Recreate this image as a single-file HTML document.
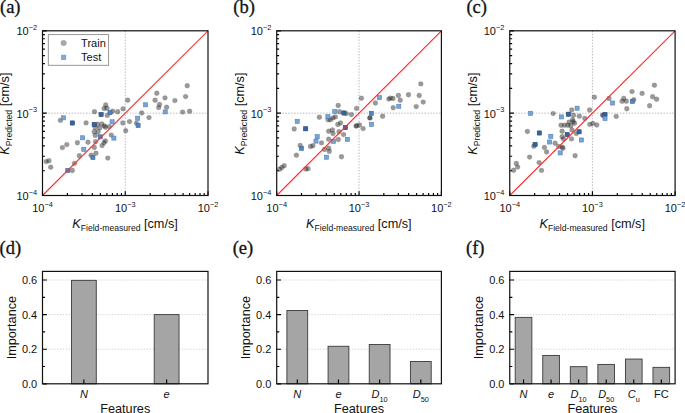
<!DOCTYPE html>
<html><head><meta charset="utf-8"><style>
html,body{margin:0;padding:0;background:#fff;width:685px;height:413px;overflow:hidden}
svg{display:block}
text{fill:#111}
</style></head><body>
<svg width="685" height="413" viewBox="0 0 685 413">
<text x="0" y="13.2" style="font-family:'Liberation Serif', serif;font-size:18.5px;stroke:#111;stroke-width:0.3px">(a)</text>
<line x1="125.25" y1="30.8" x2="125.25" y2="195.5" stroke="#a6a6a6" stroke-width="0.8" stroke-dasharray="1.4 1.5"/>
<line x1="42.5" y1="113.15" x2="208" y2="113.15" stroke="#a6a6a6" stroke-width="0.8" stroke-dasharray="1.4 1.5"/>
<clipPath id="clipa"><rect x="42.5" y="30.8" width="165.5" height="164.7"/></clipPath>
<g clip-path="url(#clipa)">
<circle cx="72.3" cy="123" r="2.45" fill="rgba(35,35,35,0.46)"/>
<circle cx="101.1" cy="114.6" r="2.45" fill="rgba(35,35,35,0.46)"/>
<circle cx="94.2" cy="124.6" r="2.45" fill="rgba(35,35,35,0.46)"/>
<circle cx="105.7" cy="104.9" r="2.45" fill="rgba(35,35,35,0.46)" stroke="rgba(35,35,35,0.2)" stroke-width="0.6"/>
<circle cx="104.1" cy="108.5" r="2.45" fill="rgba(35,35,35,0.46)" stroke="rgba(35,35,35,0.2)" stroke-width="0.6"/>
<circle cx="107" cy="108.2" r="2.45" fill="rgba(35,35,35,0.46)" stroke="rgba(35,35,35,0.2)" stroke-width="0.6"/>
<circle cx="94.5" cy="111.7" r="2.45" fill="rgba(35,35,35,0.46)" stroke="rgba(35,35,35,0.2)" stroke-width="0.6"/>
<circle cx="107.3" cy="115.4" r="2.45" fill="rgba(35,35,35,0.46)" stroke="rgba(35,35,35,0.2)" stroke-width="0.6"/>
<circle cx="112.6" cy="111.2" r="2.45" fill="rgba(35,35,35,0.46)" stroke="rgba(35,35,35,0.2)" stroke-width="0.6"/>
<circle cx="117.7" cy="111.7" r="2.45" fill="rgba(35,35,35,0.46)" stroke="rgba(35,35,35,0.2)" stroke-width="0.6"/>
<circle cx="123" cy="108.9" r="2.45" fill="rgba(35,35,35,0.46)" stroke="rgba(35,35,35,0.2)" stroke-width="0.6"/>
<circle cx="60.4" cy="120.4" r="2.45" fill="rgba(35,35,35,0.46)" stroke="rgba(35,35,35,0.2)" stroke-width="0.6"/>
<circle cx="86.1" cy="122.9" r="2.45" fill="rgba(35,35,35,0.46)" stroke="rgba(35,35,35,0.2)" stroke-width="0.6"/>
<circle cx="97.5" cy="124.3" r="2.45" fill="rgba(35,35,35,0.46)" stroke="rgba(35,35,35,0.2)" stroke-width="0.6"/>
<circle cx="101.8" cy="123.9" r="2.45" fill="rgba(35,35,35,0.46)" stroke="rgba(35,35,35,0.2)" stroke-width="0.6"/>
<circle cx="104.4" cy="125.9" r="2.45" fill="rgba(35,35,35,0.46)" stroke="rgba(35,35,35,0.2)" stroke-width="0.6"/>
<circle cx="105.4" cy="127.2" r="2.45" fill="rgba(35,35,35,0.46)" stroke="rgba(35,35,35,0.2)" stroke-width="0.6"/>
<circle cx="95.2" cy="127.6" r="2.45" fill="rgba(35,35,35,0.46)" stroke="rgba(35,35,35,0.2)" stroke-width="0.6"/>
<circle cx="99.8" cy="127.9" r="2.45" fill="rgba(35,35,35,0.46)" stroke="rgba(35,35,35,0.2)" stroke-width="0.6"/>
<circle cx="109.3" cy="126.6" r="2.45" fill="rgba(35,35,35,0.46)" stroke="rgba(35,35,35,0.2)" stroke-width="0.6"/>
<circle cx="94.2" cy="131.8" r="2.45" fill="rgba(35,35,35,0.46)" stroke="rgba(35,35,35,0.2)" stroke-width="0.6"/>
<circle cx="98.1" cy="131.8" r="2.45" fill="rgba(35,35,35,0.46)" stroke="rgba(35,35,35,0.2)" stroke-width="0.6"/>
<circle cx="95.2" cy="135.4" r="2.45" fill="rgba(35,35,35,0.46)" stroke="rgba(35,35,35,0.2)" stroke-width="0.6"/>
<circle cx="111.3" cy="135.1" r="2.45" fill="rgba(35,35,35,0.46)" stroke="rgba(35,35,35,0.2)" stroke-width="0.6"/>
<circle cx="122.8" cy="123" r="2.45" fill="rgba(35,35,35,0.46)" stroke="rgba(35,35,35,0.2)" stroke-width="0.6"/>
<circle cx="125.7" cy="130.8" r="2.45" fill="rgba(35,35,35,0.46)" stroke="rgba(35,35,35,0.2)" stroke-width="0.6"/>
<circle cx="66.8" cy="144.6" r="2.45" fill="rgba(35,35,35,0.46)" stroke="rgba(35,35,35,0.2)" stroke-width="0.6"/>
<circle cx="62.4" cy="147.6" r="2.45" fill="rgba(35,35,35,0.46)" stroke="rgba(35,35,35,0.2)" stroke-width="0.6"/>
<circle cx="77.4" cy="142.7" r="2.45" fill="rgba(35,35,35,0.46)" stroke="rgba(35,35,35,0.2)" stroke-width="0.6"/>
<circle cx="88" cy="142.3" r="2.45" fill="rgba(35,35,35,0.46)" stroke="rgba(35,35,35,0.2)" stroke-width="0.6"/>
<circle cx="95.5" cy="141.7" r="2.45" fill="rgba(35,35,35,0.46)" stroke="rgba(35,35,35,0.2)" stroke-width="0.6"/>
<circle cx="105.4" cy="141" r="2.45" fill="rgba(35,35,35,0.46)" stroke="rgba(35,35,35,0.2)" stroke-width="0.6"/>
<circle cx="104" cy="142.7" r="2.45" fill="rgba(35,35,35,0.46)" stroke="rgba(35,35,35,0.2)" stroke-width="0.6"/>
<circle cx="102.1" cy="145.6" r="2.45" fill="rgba(35,35,35,0.46)" stroke="rgba(35,35,35,0.2)" stroke-width="0.6"/>
<circle cx="94.3" cy="147.5" r="2.45" fill="rgba(35,35,35,0.46)" stroke="rgba(35,35,35,0.2)" stroke-width="0.6"/>
<circle cx="187.2" cy="85.7" r="2.45" fill="rgba(35,35,35,0.46)" stroke="rgba(35,35,35,0.2)" stroke-width="0.6"/>
<circle cx="156.8" cy="93.3" r="2.45" fill="rgba(35,35,35,0.46)" stroke="rgba(35,35,35,0.2)" stroke-width="0.6"/>
<circle cx="165" cy="97.9" r="2.45" fill="rgba(35,35,35,0.46)" stroke="rgba(35,35,35,0.2)" stroke-width="0.6"/>
<circle cx="185.6" cy="96.6" r="2.45" fill="rgba(35,35,35,0.46)" stroke="rgba(35,35,35,0.2)" stroke-width="0.6"/>
<circle cx="155.1" cy="100.2" r="2.45" fill="rgba(35,35,35,0.46)" stroke="rgba(35,35,35,0.2)" stroke-width="0.6"/>
<circle cx="174.9" cy="100.6" r="2.45" fill="rgba(35,35,35,0.46)" stroke="rgba(35,35,35,0.2)" stroke-width="0.6"/>
<circle cx="127.7" cy="100.2" r="2.45" fill="rgba(35,35,35,0.46)" stroke="rgba(35,35,35,0.2)" stroke-width="0.6"/>
<circle cx="159.5" cy="104.5" r="2.45" fill="rgba(35,35,35,0.46)" stroke="rgba(35,35,35,0.2)" stroke-width="0.6"/>
<circle cx="158.7" cy="107.6" r="2.45" fill="rgba(35,35,35,0.46)" stroke="rgba(35,35,35,0.2)" stroke-width="0.6"/>
<circle cx="166.6" cy="107.3" r="2.45" fill="rgba(35,35,35,0.46)" stroke="rgba(35,35,35,0.2)" stroke-width="0.6"/>
<circle cx="141.7" cy="113" r="2.45" fill="rgba(35,35,35,0.46)" stroke="rgba(35,35,35,0.2)" stroke-width="0.6"/>
<circle cx="182.6" cy="112.1" r="2.45" fill="rgba(35,35,35,0.46)" stroke="rgba(35,35,35,0.2)" stroke-width="0.6"/>
<circle cx="189.6" cy="111.3" r="2.45" fill="rgba(35,35,35,0.46)" stroke="rgba(35,35,35,0.2)" stroke-width="0.6"/>
<circle cx="149" cy="117.6" r="2.45" fill="rgba(35,35,35,0.46)" stroke="rgba(35,35,35,0.2)" stroke-width="0.6"/>
<circle cx="129.5" cy="121.6" r="2.45" fill="rgba(35,35,35,0.46)" stroke="rgba(35,35,35,0.2)" stroke-width="0.6"/>
<circle cx="136.5" cy="123.3" r="2.45" fill="rgba(35,35,35,0.46)" stroke="rgba(35,35,35,0.2)" stroke-width="0.6"/>
<circle cx="95.9" cy="153.2" r="2.45" fill="rgba(35,35,35,0.46)" stroke="rgba(35,35,35,0.2)" stroke-width="0.6"/>
<circle cx="91.1" cy="155.3" r="2.45" fill="rgba(35,35,35,0.46)" stroke="rgba(35,35,35,0.2)" stroke-width="0.6"/>
<circle cx="79.3" cy="155.7" r="2.45" fill="rgba(35,35,35,0.46)" stroke="rgba(35,35,35,0.2)" stroke-width="0.6"/>
<circle cx="107.8" cy="158.1" r="2.45" fill="rgba(35,35,35,0.46)" stroke="rgba(35,35,35,0.2)" stroke-width="0.6"/>
<circle cx="46.2" cy="161.6" r="2.45" fill="rgba(35,35,35,0.46)" stroke="rgba(35,35,35,0.2)" stroke-width="0.6"/>
<circle cx="49" cy="160.8" r="2.45" fill="rgba(35,35,35,0.46)" stroke="rgba(35,35,35,0.2)" stroke-width="0.6"/>
<circle cx="50.7" cy="167.2" r="2.45" fill="rgba(35,35,35,0.46)" stroke="rgba(35,35,35,0.2)" stroke-width="0.6"/>
<circle cx="74.5" cy="163.4" r="2.45" fill="rgba(35,35,35,0.46)" stroke="rgba(35,35,35,0.2)" stroke-width="0.6"/>
<circle cx="72.3" cy="170.5" r="2.45" fill="rgba(35,35,35,0.46)" stroke="rgba(35,35,35,0.2)" stroke-width="0.6"/>
<rect x="61.45" y="115.75" width="4.1" height="4.1" fill="rgb(112,160,214)" stroke="rgb(80,128,188)" stroke-width="0.6" fill-opacity="0.95"/>
<rect x="70.25" y="120.95" width="4.1" height="4.1" fill="rgb(52,98,156)" stroke="rgb(40,80,135)" stroke-width="0.6" fill-opacity="0.95"/>
<rect x="99.05" y="112.55" width="4.1" height="4.1" fill="rgb(52,98,156)" stroke="rgb(40,80,135)" stroke-width="0.6" fill-opacity="0.95"/>
<rect x="107.95" y="110.55" width="4.1" height="4.1" fill="rgb(76,126,186)" stroke="rgb(58,104,160)" stroke-width="0.6" fill-opacity="0.95"/>
<rect x="92.15" y="122.55" width="4.1" height="4.1" fill="rgb(52,98,156)" stroke="rgb(40,80,135)" stroke-width="0.6" fill-opacity="0.95"/>
<rect x="110.05" y="119.75" width="4.1" height="4.1" fill="rgb(112,160,214)" stroke="rgb(80,128,188)" stroke-width="0.6" fill-opacity="0.95"/>
<rect x="80.55" y="135.75" width="4.1" height="4.1" fill="rgb(112,160,214)" stroke="rgb(80,128,188)" stroke-width="0.6" fill-opacity="0.95"/>
<rect x="98.15" y="134.75" width="4.1" height="4.1" fill="rgb(76,126,186)" stroke="rgb(58,104,160)" stroke-width="0.6" fill-opacity="0.95"/>
<rect x="111.85" y="136.05" width="4.1" height="4.1" fill="rgb(112,160,214)" stroke="rgb(80,128,188)" stroke-width="0.6" fill-opacity="0.95"/>
<rect x="81.75" y="147.25" width="4.1" height="4.1" fill="rgb(112,160,214)" stroke="rgb(80,128,188)" stroke-width="0.6" fill-opacity="0.95"/>
<rect x="143.55" y="102.75" width="4.1" height="4.1" fill="rgb(112,160,214)" stroke="rgb(80,128,188)" stroke-width="0.6" fill-opacity="0.95"/>
<rect x="163.15" y="109.85" width="4.1" height="4.1" fill="rgb(112,160,214)" stroke="rgb(80,128,188)" stroke-width="0.6" fill-opacity="0.95"/>
<rect x="135.65" y="116.15" width="4.1" height="4.1" fill="rgb(112,160,214)" stroke="rgb(80,128,188)" stroke-width="0.6" fill-opacity="0.95"/>
<rect x="136.05" y="123.45" width="4.1" height="4.1" fill="rgb(76,126,186)" stroke="rgb(58,104,160)" stroke-width="0.6" fill-opacity="0.95"/>
<rect x="90.85" y="155.45" width="4.1" height="4.1" fill="rgb(76,126,186)" stroke="rgb(58,104,160)" stroke-width="0.6" fill-opacity="0.95"/>
<rect x="65.75" y="168.45" width="4.1" height="4.1" fill="rgb(76,126,186)" stroke="rgb(58,104,160)" stroke-width="0.6" fill-opacity="0.95"/>
<line x1="42.5" y1="195.5" x2="208" y2="30.8" stroke="#ff2a2a" stroke-width="1.1"/>
</g>
<path d="M42.5 195.5v-4.2 M42.5 195.5h4.2 M67.41 195.5v-2.4 M42.5 170.71h2.4 M81.98 195.5v-2.4 M42.5 156.21h2.4 M92.32 195.5v-2.4 M42.5 145.92h2.4 M100.34 195.5v-2.4 M42.5 137.94h2.4 M106.89 195.5v-2.4 M42.5 131.42h2.4 M112.43 195.5v-2.4 M42.5 125.91h2.4 M117.23 195.5v-2.4 M42.5 121.13h2.4 M121.46 195.5v-2.4 M42.5 116.92h2.4 M125.25 195.5v-4.2 M42.5 113.15h4.2 M150.16 195.5v-2.4 M42.5 88.36h2.4 M164.73 195.5v-2.4 M42.5 73.86h2.4 M175.07 195.5v-2.4 M42.5 63.57h2.4 M183.09 195.5v-2.4 M42.5 55.59h2.4 M189.64 195.5v-2.4 M42.5 49.07h2.4 M195.18 195.5v-2.4 M42.5 43.56h2.4 M199.98 195.5v-2.4 M42.5 38.78h2.4 M204.21 195.5v-2.4 M42.5 34.57h2.4 M208 195.5v-4.2 M42.5 30.8h4.2" stroke="#000" stroke-width="1.15" fill="none"/>
<rect x="42.5" y="30.8" width="165.5" height="164.7" fill="none" stroke="#111" stroke-width="1.2"/>
<text x="42.5" y="212.0" text-anchor="middle" style="font-family:'Liberation Sans', sans-serif;font-size:11px">10<tspan dy="-5.4" style="font-size:7.4px">−4</tspan></text>
<text x="125.25" y="212.0" text-anchor="middle" style="font-family:'Liberation Sans', sans-serif;font-size:11px">10<tspan dy="-5.4" style="font-size:7.4px">−3</tspan></text>
<text x="208" y="212.0" text-anchor="middle" style="font-family:'Liberation Sans', sans-serif;font-size:11px">10<tspan dy="-5.4" style="font-size:7.4px">−2</tspan></text>
<text x="37.2" y="200" text-anchor="end" style="font-family:'Liberation Sans', sans-serif;font-size:11px">10<tspan dy="-5.4" style="font-size:7.4px">−4</tspan></text>
<text x="37.2" y="117.65" text-anchor="end" style="font-family:'Liberation Sans', sans-serif;font-size:11px">10<tspan dy="-5.4" style="font-size:7.4px">−3</tspan></text>
<text x="37.2" y="35.3" text-anchor="end" style="font-family:'Liberation Sans', sans-serif;font-size:11px">10<tspan dy="-5.4" style="font-size:7.4px">−2</tspan></text>
<text x="125.05" y="228.3" text-anchor="middle" style="font-family:'Liberation Sans', sans-serif;font-size:12.7px"><tspan style="font-style:italic">K</tspan><tspan dy="3" style="font-size:8.6px">Field-measured</tspan><tspan dy="-3"> [cm/s]</tspan></text>
<text transform="translate(9.3,113.6) rotate(-90)" x="0" y="0" text-anchor="middle" style="font-family:'Liberation Sans', sans-serif;font-size:12.7px"><tspan style="font-style:italic">K</tspan><tspan dy="3" style="font-size:8.6px">Predicted</tspan><tspan dy="-3"> [cm/s]</tspan></text>
<rect x="48.3" y="34.6" width="60.3" height="30.7" fill="#fff" stroke="#8c8c8c" stroke-width="0.9"/>
<circle cx="63.6" cy="43" r="2.7" fill="#a8a8a8" stroke="#9a9a9a" stroke-width="0.5"/>
<rect x="61.3" y="55.1" width="4.6" height="4.6" fill="#7ea9da" stroke="#6693c8" stroke-width="0.5"/>
<text x="81.1" y="46.6" style="font-family:'Liberation Sans', sans-serif;font-size:11px">Train</text>
<text x="81.1" y="61.2" style="font-family:'Liberation Sans', sans-serif;font-size:11px">Test</text>
<text x="233.3" y="13.2" style="font-family:'Liberation Serif', serif;font-size:18.5px;stroke:#111;stroke-width:0.3px">(b)</text>
<line x1="359.05" y1="30.8" x2="359.05" y2="195.5" stroke="#a6a6a6" stroke-width="0.8" stroke-dasharray="1.4 1.5"/>
<line x1="276.7" y1="113.15" x2="441.4" y2="113.15" stroke="#a6a6a6" stroke-width="0.8" stroke-dasharray="1.4 1.5"/>
<clipPath id="clipb"><rect x="276.7" y="30.8" width="164.7" height="164.7"/></clipPath>
<g clip-path="url(#clipb)">
<circle cx="343.9" cy="113" r="2.45" fill="rgba(35,35,35,0.46)"/>
<circle cx="305.7" cy="128.8" r="2.45" fill="rgba(35,35,35,0.46)"/>
<circle cx="345.3" cy="127.6" r="2.45" fill="rgba(35,35,35,0.46)"/>
<circle cx="338.2" cy="105.5" r="2.45" fill="rgba(35,35,35,0.46)" stroke="rgba(35,35,35,0.2)" stroke-width="0.6"/>
<circle cx="356.6" cy="108.4" r="2.45" fill="rgba(35,35,35,0.46)" stroke="rgba(35,35,35,0.2)" stroke-width="0.6"/>
<circle cx="339.6" cy="111.8" r="2.45" fill="rgba(35,35,35,0.46)" stroke="rgba(35,35,35,0.2)" stroke-width="0.6"/>
<circle cx="346.3" cy="113.6" r="2.45" fill="rgba(35,35,35,0.46)" stroke="rgba(35,35,35,0.2)" stroke-width="0.6"/>
<circle cx="351.4" cy="114.6" r="2.45" fill="rgba(35,35,35,0.46)" stroke="rgba(35,35,35,0.2)" stroke-width="0.6"/>
<circle cx="319.4" cy="117.3" r="2.45" fill="rgba(35,35,35,0.46)" stroke="rgba(35,35,35,0.2)" stroke-width="0.6"/>
<circle cx="335.4" cy="116.9" r="2.45" fill="rgba(35,35,35,0.46)" stroke="rgba(35,35,35,0.2)" stroke-width="0.6"/>
<circle cx="333" cy="117.9" r="2.45" fill="rgba(35,35,35,0.46)" stroke="rgba(35,35,35,0.2)" stroke-width="0.6"/>
<circle cx="328.1" cy="119.7" r="2.45" fill="rgba(35,35,35,0.46)" stroke="rgba(35,35,35,0.2)" stroke-width="0.6"/>
<circle cx="330.5" cy="119.7" r="2.45" fill="rgba(35,35,35,0.46)" stroke="rgba(35,35,35,0.2)" stroke-width="0.6"/>
<circle cx="337.8" cy="124.5" r="2.45" fill="rgba(35,35,35,0.46)" stroke="rgba(35,35,35,0.2)" stroke-width="0.6"/>
<circle cx="340.6" cy="123" r="2.45" fill="rgba(35,35,35,0.46)" stroke="rgba(35,35,35,0.2)" stroke-width="0.6"/>
<circle cx="356" cy="126.1" r="2.45" fill="rgba(35,35,35,0.46)" stroke="rgba(35,35,35,0.2)" stroke-width="0.6"/>
<circle cx="294.2" cy="129" r="2.45" fill="rgba(35,35,35,0.46)" stroke="rgba(35,35,35,0.2)" stroke-width="0.6"/>
<circle cx="328.7" cy="131.2" r="2.45" fill="rgba(35,35,35,0.46)" stroke="rgba(35,35,35,0.2)" stroke-width="0.6"/>
<circle cx="332.4" cy="130" r="2.45" fill="rgba(35,35,35,0.46)" stroke="rgba(35,35,35,0.2)" stroke-width="0.6"/>
<circle cx="333" cy="133.6" r="2.45" fill="rgba(35,35,35,0.46)" stroke="rgba(35,35,35,0.2)" stroke-width="0.6"/>
<circle cx="339" cy="131.8" r="2.45" fill="rgba(35,35,35,0.46)" stroke="rgba(35,35,35,0.2)" stroke-width="0.6"/>
<circle cx="343.6" cy="134.6" r="2.45" fill="rgba(35,35,35,0.46)" stroke="rgba(35,35,35,0.2)" stroke-width="0.6"/>
<circle cx="328.7" cy="139.2" r="2.45" fill="rgba(35,35,35,0.46)" stroke="rgba(35,35,35,0.2)" stroke-width="0.6"/>
<circle cx="338.3" cy="139.5" r="2.45" fill="rgba(35,35,35,0.46)" stroke="rgba(35,35,35,0.2)" stroke-width="0.6"/>
<circle cx="321.5" cy="142.9" r="2.45" fill="rgba(35,35,35,0.46)" stroke="rgba(35,35,35,0.2)" stroke-width="0.6"/>
<circle cx="300.2" cy="145.5" r="2.45" fill="rgba(35,35,35,0.46)" stroke="rgba(35,35,35,0.2)" stroke-width="0.6"/>
<circle cx="310.5" cy="146.5" r="2.45" fill="rgba(35,35,35,0.46)" stroke="rgba(35,35,35,0.2)" stroke-width="0.6"/>
<circle cx="313" cy="145.7" r="2.45" fill="rgba(35,35,35,0.46)" stroke="rgba(35,35,35,0.2)" stroke-width="0.6"/>
<circle cx="324.5" cy="149.5" r="2.45" fill="rgba(35,35,35,0.46)" stroke="rgba(35,35,35,0.2)" stroke-width="0.6"/>
<circle cx="328.7" cy="148.3" r="2.45" fill="rgba(35,35,35,0.46)" stroke="rgba(35,35,35,0.2)" stroke-width="0.6"/>
<circle cx="329.3" cy="151.4" r="2.45" fill="rgba(35,35,35,0.46)" stroke="rgba(35,35,35,0.2)" stroke-width="0.6"/>
<circle cx="296.4" cy="155.2" r="2.45" fill="rgba(35,35,35,0.46)" stroke="rgba(35,35,35,0.2)" stroke-width="0.6"/>
<circle cx="341.5" cy="156.8" r="2.45" fill="rgba(35,35,35,0.46)" stroke="rgba(35,35,35,0.2)" stroke-width="0.6"/>
<circle cx="284.2" cy="165.7" r="2.45" fill="rgba(35,35,35,0.46)" stroke="rgba(35,35,35,0.2)" stroke-width="0.6"/>
<circle cx="281.8" cy="167.5" r="2.45" fill="rgba(35,35,35,0.46)" stroke="rgba(35,35,35,0.2)" stroke-width="0.6"/>
<circle cx="279.6" cy="169.3" r="2.45" fill="rgba(35,35,35,0.46)" stroke="rgba(35,35,35,0.2)" stroke-width="0.6"/>
<circle cx="305.7" cy="169" r="2.45" fill="rgba(35,35,35,0.46)" stroke="rgba(35,35,35,0.2)" stroke-width="0.6"/>
<circle cx="308.1" cy="168.7" r="2.45" fill="rgba(35,35,35,0.46)" stroke="rgba(35,35,35,0.2)" stroke-width="0.6"/>
<circle cx="420.8" cy="83.9" r="2.45" fill="rgba(35,35,35,0.46)" stroke="rgba(35,35,35,0.2)" stroke-width="0.6"/>
<circle cx="361.4" cy="98.2" r="2.45" fill="rgba(35,35,35,0.46)" stroke="rgba(35,35,35,0.2)" stroke-width="0.6"/>
<circle cx="398.4" cy="95.5" r="2.45" fill="rgba(35,35,35,0.46)" stroke="rgba(35,35,35,0.2)" stroke-width="0.6"/>
<circle cx="408.5" cy="94.8" r="2.45" fill="rgba(35,35,35,0.46)" stroke="rgba(35,35,35,0.2)" stroke-width="0.6"/>
<circle cx="419.2" cy="95.5" r="2.45" fill="rgba(35,35,35,0.46)" stroke="rgba(35,35,35,0.2)" stroke-width="0.6"/>
<circle cx="388.7" cy="99.1" r="2.45" fill="rgba(35,35,35,0.46)" stroke="rgba(35,35,35,0.2)" stroke-width="0.6"/>
<circle cx="390.5" cy="98.1" r="2.45" fill="rgba(35,35,35,0.46)" stroke="rgba(35,35,35,0.2)" stroke-width="0.6"/>
<circle cx="393" cy="98.5" r="2.45" fill="rgba(35,35,35,0.46)" stroke="rgba(35,35,35,0.2)" stroke-width="0.6"/>
<circle cx="400.2" cy="100.3" r="2.45" fill="rgba(35,35,35,0.46)" stroke="rgba(35,35,35,0.2)" stroke-width="0.6"/>
<circle cx="423.2" cy="102.1" r="2.45" fill="rgba(35,35,35,0.46)" stroke="rgba(35,35,35,0.2)" stroke-width="0.6"/>
<circle cx="375.4" cy="103" r="2.45" fill="rgba(35,35,35,0.46)" stroke="rgba(35,35,35,0.2)" stroke-width="0.6"/>
<circle cx="393.2" cy="107.8" r="2.45" fill="rgba(35,35,35,0.46)" stroke="rgba(35,35,35,0.2)" stroke-width="0.6"/>
<circle cx="416.2" cy="106.6" r="2.45" fill="rgba(35,35,35,0.46)" stroke="rgba(35,35,35,0.2)" stroke-width="0.6"/>
<circle cx="382.6" cy="116.3" r="2.45" fill="rgba(35,35,35,0.46)" stroke="rgba(35,35,35,0.2)" stroke-width="0.6"/>
<circle cx="369.9" cy="117.9" r="2.45" fill="rgba(35,35,35,0.46)" stroke="rgba(35,35,35,0.2)" stroke-width="0.6"/>
<circle cx="369.9" cy="117.9" r="2.45" fill="rgba(35,35,35,0.46)" stroke="rgba(35,35,35,0.2)" stroke-width="0.6"/>
<circle cx="356.7" cy="125.8" r="2.45" fill="rgba(35,35,35,0.46)" stroke="rgba(35,35,35,0.2)" stroke-width="0.6"/>
<circle cx="359.5" cy="125" r="2.45" fill="rgba(35,35,35,0.46)" stroke="rgba(35,35,35,0.2)" stroke-width="0.6"/>
<circle cx="363.1" cy="128.6" r="2.45" fill="rgba(35,35,35,0.46)" stroke="rgba(35,35,35,0.2)" stroke-width="0.6"/>
<rect x="332.75" y="109.45" width="4.1" height="4.1" fill="rgb(112,160,214)" stroke="rgb(80,128,188)" stroke-width="0.6" fill-opacity="0.95"/>
<rect x="341.85" y="110.95" width="4.1" height="4.1" fill="rgb(52,98,156)" stroke="rgb(40,80,135)" stroke-width="0.6" fill-opacity="0.95"/>
<rect x="325.85" y="114.65" width="4.1" height="4.1" fill="rgb(112,160,214)" stroke="rgb(80,128,188)" stroke-width="0.6" fill-opacity="0.95"/>
<rect x="295.15" y="119.25" width="4.1" height="4.1" fill="rgb(112,160,214)" stroke="rgb(80,128,188)" stroke-width="0.6" fill-opacity="0.95"/>
<rect x="303.65" y="126.75" width="4.1" height="4.1" fill="rgb(52,98,156)" stroke="rgb(40,80,135)" stroke-width="0.6" fill-opacity="0.95"/>
<rect x="343.25" y="125.55" width="4.1" height="4.1" fill="rgb(52,98,156)" stroke="rgb(40,80,135)" stroke-width="0.6" fill-opacity="0.95"/>
<rect x="315.15" y="134.65" width="4.1" height="4.1" fill="rgb(112,160,214)" stroke="rgb(80,128,188)" stroke-width="0.6" fill-opacity="0.95"/>
<rect x="345.35" y="137.35" width="4.1" height="4.1" fill="rgb(112,160,214)" stroke="rgb(80,128,188)" stroke-width="0.6" fill-opacity="0.95"/>
<rect x="313.95" y="139.05" width="4.1" height="4.1" fill="rgb(112,160,214)" stroke="rgb(80,128,188)" stroke-width="0.6" fill-opacity="0.95"/>
<rect x="331.55" y="139.25" width="4.1" height="4.1" fill="rgb(112,160,214)" stroke="rgb(80,128,188)" stroke-width="0.6" fill-opacity="0.95"/>
<rect x="299.45" y="146.25" width="4.1" height="4.1" fill="rgb(76,126,186)" stroke="rgb(58,104,160)" stroke-width="0.6" fill-opacity="0.95"/>
<rect x="324.45" y="155.15" width="4.1" height="4.1" fill="rgb(112,160,214)" stroke="rgb(80,128,188)" stroke-width="0.6" fill-opacity="0.95"/>
<rect x="377.35" y="95.55" width="4.1" height="4.1" fill="rgb(112,160,214)" stroke="rgb(80,128,188)" stroke-width="0.6" fill-opacity="0.95"/>
<rect x="396.75" y="104.25" width="4.1" height="4.1" fill="rgb(112,160,214)" stroke="rgb(80,128,188)" stroke-width="0.6" fill-opacity="0.95"/>
<rect x="369.25" y="111.25" width="4.1" height="4.1" fill="rgb(76,126,186)" stroke="rgb(58,104,160)" stroke-width="0.6" fill-opacity="0.95"/>
<rect x="369.55" y="122.35" width="4.1" height="4.1" fill="rgb(112,160,214)" stroke="rgb(80,128,188)" stroke-width="0.6" fill-opacity="0.95"/>
<line x1="276.7" y1="195.5" x2="441.4" y2="30.8" stroke="#ff2a2a" stroke-width="1.1"/>
</g>
<path d="M276.7 195.5v-4.2 M276.7 195.5h4.2 M301.49 195.5v-2.4 M276.7 170.71h2.4 M315.99 195.5v-2.4 M276.7 156.21h2.4 M326.28 195.5v-2.4 M276.7 145.92h2.4 M334.26 195.5v-2.4 M276.7 137.94h2.4 M340.78 195.5v-2.4 M276.7 131.42h2.4 M346.29 195.5v-2.4 M276.7 125.91h2.4 M351.07 195.5v-2.4 M276.7 121.13h2.4 M355.28 195.5v-2.4 M276.7 116.92h2.4 M359.05 195.5v-4.2 M276.7 113.15h4.2 M383.84 195.5v-2.4 M276.7 88.36h2.4 M398.34 195.5v-2.4 M276.7 73.86h2.4 M408.63 195.5v-2.4 M276.7 63.57h2.4 M416.61 195.5v-2.4 M276.7 55.59h2.4 M423.13 195.5v-2.4 M276.7 49.07h2.4 M428.64 195.5v-2.4 M276.7 43.56h2.4 M433.42 195.5v-2.4 M276.7 38.78h2.4 M437.63 195.5v-2.4 M276.7 34.57h2.4 M441.4 195.5v-4.2 M276.7 30.8h4.2" stroke="#000" stroke-width="1.15" fill="none"/>
<rect x="276.7" y="30.8" width="164.7" height="164.7" fill="none" stroke="#111" stroke-width="1.2"/>
<text x="276.7" y="212.0" text-anchor="middle" style="font-family:'Liberation Sans', sans-serif;font-size:11px">10<tspan dy="-5.4" style="font-size:7.4px">−4</tspan></text>
<text x="359.05" y="212.0" text-anchor="middle" style="font-family:'Liberation Sans', sans-serif;font-size:11px">10<tspan dy="-5.4" style="font-size:7.4px">−3</tspan></text>
<text x="441.4" y="212.0" text-anchor="middle" style="font-family:'Liberation Sans', sans-serif;font-size:11px">10<tspan dy="-5.4" style="font-size:7.4px">−2</tspan></text>
<text x="271.4" y="200" text-anchor="end" style="font-family:'Liberation Sans', sans-serif;font-size:11px">10<tspan dy="-5.4" style="font-size:7.4px">−4</tspan></text>
<text x="271.4" y="117.65" text-anchor="end" style="font-family:'Liberation Sans', sans-serif;font-size:11px">10<tspan dy="-5.4" style="font-size:7.4px">−3</tspan></text>
<text x="271.4" y="35.3" text-anchor="end" style="font-family:'Liberation Sans', sans-serif;font-size:11px">10<tspan dy="-5.4" style="font-size:7.4px">−2</tspan></text>
<text x="358.85" y="228.3" text-anchor="middle" style="font-family:'Liberation Sans', sans-serif;font-size:12.7px"><tspan style="font-style:italic">K</tspan><tspan dy="3" style="font-size:8.6px">Field-measured</tspan><tspan dy="-3"> [cm/s]</tspan></text>
<text transform="translate(243.5,113.6) rotate(-90)" x="0" y="0" text-anchor="middle" style="font-family:'Liberation Sans', sans-serif;font-size:12.7px"><tspan style="font-style:italic">K</tspan><tspan dy="3" style="font-size:8.6px">Predicted</tspan><tspan dy="-3"> [cm/s]</tspan></text>
<text x="466.4" y="13.2" style="font-family:'Liberation Serif', serif;font-size:18.5px;stroke:#111;stroke-width:0.3px">(c)</text>
<line x1="592.42" y1="30.8" x2="592.42" y2="195.5" stroke="#a6a6a6" stroke-width="0.8" stroke-dasharray="1.4 1.5"/>
<line x1="509.75" y1="113.15" x2="675.1" y2="113.15" stroke="#a6a6a6" stroke-width="0.8" stroke-dasharray="1.4 1.5"/>
<clipPath id="clipc"><rect x="509.75" y="30.8" width="165.35" height="164.7"/></clipPath>
<g clip-path="url(#clipc)">
<circle cx="568.4" cy="114.2" r="2.45" fill="rgba(35,35,35,0.46)"/>
<circle cx="539.3" cy="133" r="2.45" fill="rgba(35,35,35,0.46)"/>
<circle cx="579.1" cy="131.8" r="2.45" fill="rgba(35,35,35,0.46)"/>
<circle cx="567.2" cy="134.6" r="2.45" fill="rgba(35,35,35,0.46)"/>
<circle cx="535.1" cy="144.5" r="2.45" fill="rgba(35,35,35,0.46)"/>
<circle cx="605" cy="114.5" r="2.45" fill="rgba(35,35,35,0.46)"/>
<circle cx="553.2" cy="113.6" r="2.45" fill="rgba(35,35,35,0.46)" stroke="rgba(35,35,35,0.2)" stroke-width="0.6"/>
<circle cx="571.7" cy="110" r="2.45" fill="rgba(35,35,35,0.46)" stroke="rgba(35,35,35,0.2)" stroke-width="0.6"/>
<circle cx="573.5" cy="115.2" r="2.45" fill="rgba(35,35,35,0.46)" stroke="rgba(35,35,35,0.2)" stroke-width="0.6"/>
<circle cx="579.3" cy="116.3" r="2.45" fill="rgba(35,35,35,0.46)" stroke="rgba(35,35,35,0.2)" stroke-width="0.6"/>
<circle cx="584.8" cy="118.5" r="2.45" fill="rgba(35,35,35,0.46)" stroke="rgba(35,35,35,0.2)" stroke-width="0.6"/>
<circle cx="589.6" cy="110" r="2.45" fill="rgba(35,35,35,0.46)" stroke="rgba(35,35,35,0.2)" stroke-width="0.6"/>
<circle cx="572.6" cy="119.7" r="2.45" fill="rgba(35,35,35,0.46)" stroke="rgba(35,35,35,0.2)" stroke-width="0.6"/>
<circle cx="573.2" cy="121.8" r="2.45" fill="rgba(35,35,35,0.46)" stroke="rgba(35,35,35,0.2)" stroke-width="0.6"/>
<circle cx="569" cy="122.1" r="2.45" fill="rgba(35,35,35,0.46)" stroke="rgba(35,35,35,0.2)" stroke-width="0.6"/>
<circle cx="574.5" cy="123.3" r="2.45" fill="rgba(35,35,35,0.46)" stroke="rgba(35,35,35,0.2)" stroke-width="0.6"/>
<circle cx="561.1" cy="125.2" r="2.45" fill="rgba(35,35,35,0.46)" stroke="rgba(35,35,35,0.2)" stroke-width="0.6"/>
<circle cx="564.5" cy="125.2" r="2.45" fill="rgba(35,35,35,0.46)" stroke="rgba(35,35,35,0.2)" stroke-width="0.6"/>
<circle cx="567.8" cy="125.2" r="2.45" fill="rgba(35,35,35,0.46)" stroke="rgba(35,35,35,0.2)" stroke-width="0.6"/>
<circle cx="570.8" cy="125.8" r="2.45" fill="rgba(35,35,35,0.46)" stroke="rgba(35,35,35,0.2)" stroke-width="0.6"/>
<circle cx="527.4" cy="131.5" r="2.45" fill="rgba(35,35,35,0.46)" stroke="rgba(35,35,35,0.2)" stroke-width="0.6"/>
<circle cx="562.1" cy="131.2" r="2.45" fill="rgba(35,35,35,0.46)" stroke="rgba(35,35,35,0.2)" stroke-width="0.6"/>
<circle cx="572" cy="130" r="2.45" fill="rgba(35,35,35,0.46)" stroke="rgba(35,35,35,0.2)" stroke-width="0.6"/>
<circle cx="576.3" cy="133.6" r="2.45" fill="rgba(35,35,35,0.46)" stroke="rgba(35,35,35,0.2)" stroke-width="0.6"/>
<circle cx="562.1" cy="136.8" r="2.45" fill="rgba(35,35,35,0.46)" stroke="rgba(35,35,35,0.2)" stroke-width="0.6"/>
<circle cx="571.5" cy="138.9" r="2.45" fill="rgba(35,35,35,0.46)" stroke="rgba(35,35,35,0.2)" stroke-width="0.6"/>
<circle cx="563.4" cy="139" r="2.45" fill="rgba(35,35,35,0.46)" stroke="rgba(35,35,35,0.2)" stroke-width="0.6"/>
<circle cx="555.1" cy="143.2" r="2.45" fill="rgba(35,35,35,0.46)" stroke="rgba(35,35,35,0.2)" stroke-width="0.6"/>
<circle cx="533.8" cy="146.2" r="2.45" fill="rgba(35,35,35,0.46)" stroke="rgba(35,35,35,0.2)" stroke-width="0.6"/>
<circle cx="544.4" cy="147.5" r="2.45" fill="rgba(35,35,35,0.46)" stroke="rgba(35,35,35,0.2)" stroke-width="0.6"/>
<circle cx="546.6" cy="152" r="2.45" fill="rgba(35,35,35,0.46)" stroke="rgba(35,35,35,0.2)" stroke-width="0.6"/>
<circle cx="558.7" cy="146.5" r="2.45" fill="rgba(35,35,35,0.46)" stroke="rgba(35,35,35,0.2)" stroke-width="0.6"/>
<circle cx="562.3" cy="147.1" r="2.45" fill="rgba(35,35,35,0.46)" stroke="rgba(35,35,35,0.2)" stroke-width="0.6"/>
<circle cx="562.9" cy="148.3" r="2.45" fill="rgba(35,35,35,0.46)" stroke="rgba(35,35,35,0.2)" stroke-width="0.6"/>
<circle cx="529.6" cy="157.1" r="2.45" fill="rgba(35,35,35,0.46)" stroke="rgba(35,35,35,0.2)" stroke-width="0.6"/>
<circle cx="575.1" cy="155.8" r="2.45" fill="rgba(35,35,35,0.46)" stroke="rgba(35,35,35,0.2)" stroke-width="0.6"/>
<circle cx="516.3" cy="163.5" r="2.45" fill="rgba(35,35,35,0.46)" stroke="rgba(35,35,35,0.2)" stroke-width="0.6"/>
<circle cx="517.7" cy="167.1" r="2.45" fill="rgba(35,35,35,0.46)" stroke="rgba(35,35,35,0.2)" stroke-width="0.6"/>
<circle cx="513.6" cy="170.2" r="2.45" fill="rgba(35,35,35,0.46)" stroke="rgba(35,35,35,0.2)" stroke-width="0.6"/>
<circle cx="539.1" cy="162.6" r="2.45" fill="rgba(35,35,35,0.46)" stroke="rgba(35,35,35,0.2)" stroke-width="0.6"/>
<circle cx="541.5" cy="170.4" r="2.45" fill="rgba(35,35,35,0.46)" stroke="rgba(35,35,35,0.2)" stroke-width="0.6"/>
<circle cx="654.4" cy="85.2" r="2.45" fill="rgba(35,35,35,0.46)" stroke="rgba(35,35,35,0.2)" stroke-width="0.6"/>
<circle cx="632" cy="91.6" r="2.45" fill="rgba(35,35,35,0.46)" stroke="rgba(35,35,35,0.2)" stroke-width="0.6"/>
<circle cx="642.1" cy="93.4" r="2.45" fill="rgba(35,35,35,0.46)" stroke="rgba(35,35,35,0.2)" stroke-width="0.6"/>
<circle cx="652.6" cy="96.7" r="2.45" fill="rgba(35,35,35,0.46)" stroke="rgba(35,35,35,0.2)" stroke-width="0.6"/>
<circle cx="656.6" cy="99.3" r="2.45" fill="rgba(35,35,35,0.46)" stroke="rgba(35,35,35,0.2)" stroke-width="0.6"/>
<circle cx="594.4" cy="97.3" r="2.45" fill="rgba(35,35,35,0.46)" stroke="rgba(35,35,35,0.2)" stroke-width="0.6"/>
<circle cx="609" cy="98.5" r="2.45" fill="rgba(35,35,35,0.46)" stroke="rgba(35,35,35,0.2)" stroke-width="0.6"/>
<circle cx="623.8" cy="98.5" r="2.45" fill="rgba(35,35,35,0.46)" stroke="rgba(35,35,35,0.2)" stroke-width="0.6"/>
<circle cx="622.1" cy="101.3" r="2.45" fill="rgba(35,35,35,0.46)" stroke="rgba(35,35,35,0.2)" stroke-width="0.6"/>
<circle cx="626.3" cy="101.3" r="2.45" fill="rgba(35,35,35,0.46)" stroke="rgba(35,35,35,0.2)" stroke-width="0.6"/>
<circle cx="633.8" cy="99.7" r="2.45" fill="rgba(35,35,35,0.46)" stroke="rgba(35,35,35,0.2)" stroke-width="0.6"/>
<circle cx="649.6" cy="105.8" r="2.45" fill="rgba(35,35,35,0.46)" stroke="rgba(35,35,35,0.2)" stroke-width="0.6"/>
<circle cx="626.8" cy="108.8" r="2.45" fill="rgba(35,35,35,0.46)" stroke="rgba(35,35,35,0.2)" stroke-width="0.6"/>
<circle cx="616.2" cy="116.4" r="2.45" fill="rgba(35,35,35,0.46)" stroke="rgba(35,35,35,0.2)" stroke-width="0.6"/>
<circle cx="603.5" cy="115.5" r="2.45" fill="rgba(35,35,35,0.46)" stroke="rgba(35,35,35,0.2)" stroke-width="0.6"/>
<circle cx="602.6" cy="115.3" r="2.45" fill="rgba(35,35,35,0.46)" stroke="rgba(35,35,35,0.2)" stroke-width="0.6"/>
<circle cx="589.8" cy="124.4" r="2.45" fill="rgba(35,35,35,0.46)" stroke="rgba(35,35,35,0.2)" stroke-width="0.6"/>
<circle cx="592.9" cy="123.5" r="2.45" fill="rgba(35,35,35,0.46)" stroke="rgba(35,35,35,0.2)" stroke-width="0.6"/>
<circle cx="596.8" cy="125" r="2.45" fill="rgba(35,35,35,0.46)" stroke="rgba(35,35,35,0.2)" stroke-width="0.6"/>
<rect x="528.55" y="111.25" width="4.1" height="4.1" fill="rgb(112,160,214)" stroke="rgb(80,128,188)" stroke-width="0.6" fill-opacity="0.95"/>
<rect x="559.35" y="114.85" width="4.1" height="4.1" fill="rgb(112,160,214)" stroke="rgb(80,128,188)" stroke-width="0.6" fill-opacity="0.95"/>
<rect x="566.35" y="112.15" width="4.1" height="4.1" fill="rgb(52,98,156)" stroke="rgb(40,80,135)" stroke-width="0.6" fill-opacity="0.95"/>
<rect x="575.05" y="106.15" width="4.1" height="4.1" fill="rgb(112,160,214)" stroke="rgb(80,128,188)" stroke-width="0.6" fill-opacity="0.95"/>
<rect x="537.25" y="130.95" width="4.1" height="4.1" fill="rgb(52,98,156)" stroke="rgb(40,80,135)" stroke-width="0.6" fill-opacity="0.95"/>
<rect x="548.75" y="134.25" width="4.1" height="4.1" fill="rgb(112,160,214)" stroke="rgb(80,128,188)" stroke-width="0.6" fill-opacity="0.95"/>
<rect x="577.05" y="129.75" width="4.1" height="4.1" fill="rgb(52,98,156)" stroke="rgb(40,80,135)" stroke-width="0.6" fill-opacity="0.95"/>
<rect x="565.15" y="132.55" width="4.1" height="4.1" fill="rgb(52,98,156)" stroke="rgb(40,80,135)" stroke-width="0.6" fill-opacity="0.95"/>
<rect x="579.35" y="137.95" width="4.1" height="4.1" fill="rgb(112,160,214)" stroke="rgb(80,128,188)" stroke-width="0.6" fill-opacity="0.95"/>
<rect x="547.55" y="139.95" width="4.1" height="4.1" fill="rgb(112,160,214)" stroke="rgb(80,128,188)" stroke-width="0.6" fill-opacity="0.95"/>
<rect x="533.05" y="142.45" width="4.1" height="4.1" fill="rgb(52,98,156)" stroke="rgb(40,80,135)" stroke-width="0.6" fill-opacity="0.95"/>
<rect x="558.15" y="150.85" width="4.1" height="4.1" fill="rgb(112,160,214)" stroke="rgb(80,128,188)" stroke-width="0.6" fill-opacity="0.95"/>
<rect x="610.55" y="100.95" width="4.1" height="4.1" fill="rgb(112,160,214)" stroke="rgb(80,128,188)" stroke-width="0.6" fill-opacity="0.95"/>
<rect x="630.35" y="99.25" width="4.1" height="4.1" fill="rgb(76,126,186)" stroke="rgb(58,104,160)" stroke-width="0.6" fill-opacity="0.95"/>
<rect x="602.95" y="112.45" width="4.1" height="4.1" fill="rgb(52,98,156)" stroke="rgb(40,80,135)" stroke-width="0.6" fill-opacity="0.95"/>
<rect x="602.95" y="116.55" width="4.1" height="4.1" fill="rgb(112,160,214)" stroke="rgb(80,128,188)" stroke-width="0.6" fill-opacity="0.95"/>
<line x1="509.75" y1="195.5" x2="675.1" y2="30.8" stroke="#ff2a2a" stroke-width="1.1"/>
</g>
<path d="M509.75 195.5v-4.2 M509.75 195.5h4.2 M534.64 195.5v-2.4 M509.75 170.71h2.4 M549.2 195.5v-2.4 M509.75 156.21h2.4 M559.53 195.5v-2.4 M509.75 145.92h2.4 M567.54 195.5v-2.4 M509.75 137.94h2.4 M574.08 195.5v-2.4 M509.75 131.42h2.4 M579.62 195.5v-2.4 M509.75 125.91h2.4 M584.41 195.5v-2.4 M509.75 121.13h2.4 M588.64 195.5v-2.4 M509.75 116.92h2.4 M592.42 195.5v-4.2 M509.75 113.15h4.2 M617.31 195.5v-2.4 M509.75 88.36h2.4 M631.87 195.5v-2.4 M509.75 73.86h2.4 M642.2 195.5v-2.4 M509.75 63.57h2.4 M650.21 195.5v-2.4 M509.75 55.59h2.4 M656.76 195.5v-2.4 M509.75 49.07h2.4 M662.29 195.5v-2.4 M509.75 43.56h2.4 M667.09 195.5v-2.4 M509.75 38.78h2.4 M671.32 195.5v-2.4 M509.75 34.57h2.4 M675.1 195.5v-4.2 M509.75 30.8h4.2" stroke="#000" stroke-width="1.15" fill="none"/>
<rect x="509.75" y="30.8" width="165.35" height="164.7" fill="none" stroke="#111" stroke-width="1.2"/>
<text x="509.75" y="212.0" text-anchor="middle" style="font-family:'Liberation Sans', sans-serif;font-size:11px">10<tspan dy="-5.4" style="font-size:7.4px">−4</tspan></text>
<text x="592.42" y="212.0" text-anchor="middle" style="font-family:'Liberation Sans', sans-serif;font-size:11px">10<tspan dy="-5.4" style="font-size:7.4px">−3</tspan></text>
<text x="675.1" y="212.0" text-anchor="middle" style="font-family:'Liberation Sans', sans-serif;font-size:11px">10<tspan dy="-5.4" style="font-size:7.4px">−2</tspan></text>
<text x="504.45" y="200" text-anchor="end" style="font-family:'Liberation Sans', sans-serif;font-size:11px">10<tspan dy="-5.4" style="font-size:7.4px">−4</tspan></text>
<text x="504.45" y="117.65" text-anchor="end" style="font-family:'Liberation Sans', sans-serif;font-size:11px">10<tspan dy="-5.4" style="font-size:7.4px">−3</tspan></text>
<text x="504.45" y="35.3" text-anchor="end" style="font-family:'Liberation Sans', sans-serif;font-size:11px">10<tspan dy="-5.4" style="font-size:7.4px">−2</tspan></text>
<text x="592.22" y="228.3" text-anchor="middle" style="font-family:'Liberation Sans', sans-serif;font-size:12.7px"><tspan style="font-style:italic">K</tspan><tspan dy="3" style="font-size:8.6px">Field-measured</tspan><tspan dy="-3"> [cm/s]</tspan></text>
<text transform="translate(476.55,113.6) rotate(-90)" x="0" y="0" text-anchor="middle" style="font-family:'Liberation Sans', sans-serif;font-size:12.7px"><tspan style="font-style:italic">K</tspan><tspan dy="3" style="font-size:8.6px">Predicted</tspan><tspan dy="-3"> [cm/s]</tspan></text>
<text x="-0.4" y="254.0" style="font-family:'Liberation Serif', serif;font-size:18.5px;stroke:#111;stroke-width:0.3px">(d)</text>
<line x1="42.5" y1="349.2" x2="208" y2="349.2" stroke="#c4c4c4" stroke-width="0.8" stroke-dasharray="1.2 1.7"/>
<line x1="42.5" y1="314.6" x2="208" y2="314.6" stroke="#c4c4c4" stroke-width="0.8" stroke-dasharray="1.2 1.7"/>
<line x1="42.5" y1="280" x2="208" y2="280" stroke="#c4c4c4" stroke-width="0.8" stroke-dasharray="1.2 1.7"/>
<rect x="71.46" y="280.35" width="24.82" height="103.45" fill="#a5a5a5" stroke="#3a3a3a" stroke-width="0.9"/>
<rect x="154.21" y="314.6" width="24.82" height="69.2" fill="#a5a5a5" stroke="#3a3a3a" stroke-width="0.9"/>
<path d="M83.88 383.8v-4.4 M166.62 383.8v-4.4 M42.5 383.8h4.4 M42.5 366.5h2.6 M42.5 349.2h4.4 M42.5 331.9h2.6 M42.5 314.6h4.4 M42.5 297.3h2.6 M42.5 280h4.4" stroke="#000" stroke-width="1.15" fill="none"/>
<rect x="42.5" y="271.4" width="165.5" height="112.4" fill="none" stroke="#111" stroke-width="1.2"/>
<text x="37.2" y="388" text-anchor="end" style="font-family:'Liberation Sans', sans-serif;font-size:11px">0.0</text>
<text x="37.2" y="353.4" text-anchor="end" style="font-family:'Liberation Sans', sans-serif;font-size:11px">0.2</text>
<text x="37.2" y="318.8" text-anchor="end" style="font-family:'Liberation Sans', sans-serif;font-size:11px">0.4</text>
<text x="37.2" y="284.2" text-anchor="end" style="font-family:'Liberation Sans', sans-serif;font-size:11px">0.6</text>
<text x="83.88" y="397.9" text-anchor="middle" style="font-family:'Liberation Sans', sans-serif;font-size:11px"><tspan style="font-style:italic">N</tspan></text>
<text x="166.62" y="397.9" text-anchor="middle" style="font-family:'Liberation Sans', sans-serif;font-size:11px"><tspan style="font-style:italic">e</tspan></text>
<text x="125.25" y="413.2" text-anchor="middle" style="font-family:'Liberation Sans', sans-serif;font-size:12.7px">Features</text>
<text transform="translate(15.9,327.6) rotate(-90)" x="0" y="0" text-anchor="middle" style="font-family:'Liberation Sans', sans-serif;font-size:12.7px">Importance</text>
<text x="232.7" y="254.0" style="font-family:'Liberation Serif', serif;font-size:18.5px;stroke:#111;stroke-width:0.3px">(e)</text>
<line x1="276.7" y1="349.2" x2="441.4" y2="349.2" stroke="#c4c4c4" stroke-width="0.8" stroke-dasharray="1.2 1.7"/>
<line x1="276.7" y1="314.6" x2="441.4" y2="314.6" stroke="#c4c4c4" stroke-width="0.8" stroke-dasharray="1.2 1.7"/>
<line x1="276.7" y1="280" x2="441.4" y2="280" stroke="#c4c4c4" stroke-width="0.8" stroke-dasharray="1.2 1.7"/>
<rect x="286.89" y="310.45" width="20.79" height="73.35" fill="#a5a5a5" stroke="#3a3a3a" stroke-width="0.9"/>
<rect x="328.07" y="346.26" width="20.79" height="37.54" fill="#a5a5a5" stroke="#3a3a3a" stroke-width="0.9"/>
<rect x="369.24" y="344.53" width="20.79" height="39.27" fill="#a5a5a5" stroke="#3a3a3a" stroke-width="0.9"/>
<rect x="410.42" y="361.48" width="20.79" height="22.32" fill="#a5a5a5" stroke="#3a3a3a" stroke-width="0.9"/>
<path d="M297.29 383.8v-4.4 M338.46 383.8v-4.4 M379.64 383.8v-4.4 M420.81 383.8v-4.4 M276.7 383.8h4.4 M276.7 366.5h2.6 M276.7 349.2h4.4 M276.7 331.9h2.6 M276.7 314.6h4.4 M276.7 297.3h2.6 M276.7 280h4.4" stroke="#000" stroke-width="1.15" fill="none"/>
<rect x="276.7" y="271.4" width="164.7" height="112.4" fill="none" stroke="#111" stroke-width="1.2"/>
<text x="271.4" y="388" text-anchor="end" style="font-family:'Liberation Sans', sans-serif;font-size:11px">0.0</text>
<text x="271.4" y="353.4" text-anchor="end" style="font-family:'Liberation Sans', sans-serif;font-size:11px">0.2</text>
<text x="271.4" y="318.8" text-anchor="end" style="font-family:'Liberation Sans', sans-serif;font-size:11px">0.4</text>
<text x="271.4" y="284.2" text-anchor="end" style="font-family:'Liberation Sans', sans-serif;font-size:11px">0.6</text>
<text x="297.29" y="397.9" text-anchor="middle" style="font-family:'Liberation Sans', sans-serif;font-size:11px"><tspan style="font-style:italic">N</tspan></text>
<text x="338.46" y="397.9" text-anchor="middle" style="font-family:'Liberation Sans', sans-serif;font-size:11px"><tspan style="font-style:italic">e</tspan></text>
<text x="379.64" y="397.9" text-anchor="middle" style="font-family:'Liberation Sans', sans-serif;font-size:11px"><tspan style="font-style:italic">D</tspan><tspan dy="4.4" style="font-size:7.3px">10</tspan></text>
<text x="420.81" y="397.9" text-anchor="middle" style="font-family:'Liberation Sans', sans-serif;font-size:11px"><tspan style="font-style:italic">D</tspan><tspan dy="4.4" style="font-size:7.3px">50</tspan></text>
<text x="359.05" y="413.2" text-anchor="middle" style="font-family:'Liberation Sans', sans-serif;font-size:12.7px">Features</text>
<text transform="translate(250.1,327.6) rotate(-90)" x="0" y="0" text-anchor="middle" style="font-family:'Liberation Sans', sans-serif;font-size:12.7px">Importance</text>
<text x="466" y="254.0" style="font-family:'Liberation Serif', serif;font-size:18.5px;stroke:#111;stroke-width:0.3px">(f)</text>
<line x1="509.75" y1="349.2" x2="675.1" y2="349.2" stroke="#c4c4c4" stroke-width="0.8" stroke-dasharray="1.2 1.7"/>
<line x1="509.75" y1="314.6" x2="675.1" y2="314.6" stroke="#c4c4c4" stroke-width="0.8" stroke-dasharray="1.2 1.7"/>
<line x1="509.75" y1="280" x2="675.1" y2="280" stroke="#c4c4c4" stroke-width="0.8" stroke-dasharray="1.2 1.7"/>
<rect x="515.19" y="317.37" width="16.67" height="66.43" fill="#a5a5a5" stroke="#3a3a3a" stroke-width="0.9"/>
<rect x="542.75" y="355.43" width="16.67" height="28.37" fill="#a5a5a5" stroke="#3a3a3a" stroke-width="0.9"/>
<rect x="570.31" y="366.67" width="16.67" height="17.13" fill="#a5a5a5" stroke="#3a3a3a" stroke-width="0.9"/>
<rect x="597.87" y="364.42" width="16.67" height="19.38" fill="#a5a5a5" stroke="#3a3a3a" stroke-width="0.9"/>
<rect x="625.43" y="359.06" width="16.67" height="24.74" fill="#a5a5a5" stroke="#3a3a3a" stroke-width="0.9"/>
<rect x="652.98" y="367.37" width="16.67" height="16.44" fill="#a5a5a5" stroke="#3a3a3a" stroke-width="0.9"/>
<path d="M523.53 383.8v-4.4 M551.09 383.8v-4.4 M578.65 383.8v-4.4 M606.2 383.8v-4.4 M633.76 383.8v-4.4 M661.32 383.8v-4.4 M509.75 383.8h4.4 M509.75 366.5h2.6 M509.75 349.2h4.4 M509.75 331.9h2.6 M509.75 314.6h4.4 M509.75 297.3h2.6 M509.75 280h4.4" stroke="#000" stroke-width="1.15" fill="none"/>
<rect x="509.75" y="271.4" width="165.35" height="112.4" fill="none" stroke="#111" stroke-width="1.2"/>
<text x="504.45" y="388" text-anchor="end" style="font-family:'Liberation Sans', sans-serif;font-size:11px">0.0</text>
<text x="504.45" y="353.4" text-anchor="end" style="font-family:'Liberation Sans', sans-serif;font-size:11px">0.2</text>
<text x="504.45" y="318.8" text-anchor="end" style="font-family:'Liberation Sans', sans-serif;font-size:11px">0.4</text>
<text x="504.45" y="284.2" text-anchor="end" style="font-family:'Liberation Sans', sans-serif;font-size:11px">0.6</text>
<text x="523.53" y="397.9" text-anchor="middle" style="font-family:'Liberation Sans', sans-serif;font-size:11px"><tspan style="font-style:italic">N</tspan></text>
<text x="551.09" y="397.9" text-anchor="middle" style="font-family:'Liberation Sans', sans-serif;font-size:11px"><tspan style="font-style:italic">e</tspan></text>
<text x="578.65" y="397.9" text-anchor="middle" style="font-family:'Liberation Sans', sans-serif;font-size:11px"><tspan style="font-style:italic">D</tspan><tspan dy="4.4" style="font-size:7.3px">10</tspan></text>
<text x="606.2" y="397.9" text-anchor="middle" style="font-family:'Liberation Sans', sans-serif;font-size:11px"><tspan style="font-style:italic">D</tspan><tspan dy="4.4" style="font-size:7.3px">50</tspan></text>
<text x="633.76" y="397.9" text-anchor="middle" style="font-family:'Liberation Sans', sans-serif;font-size:11px"><tspan style="font-style:italic">C</tspan><tspan dy="4.4" style="font-size:7.3px">u</tspan></text>
<text x="661.32" y="397.9" text-anchor="middle" style="font-family:'Liberation Sans', sans-serif;font-size:11px">FC</text>
<text x="592.42" y="413.2" text-anchor="middle" style="font-family:'Liberation Sans', sans-serif;font-size:12.7px">Features</text>
<text transform="translate(483.15,327.6) rotate(-90)" x="0" y="0" text-anchor="middle" style="font-family:'Liberation Sans', sans-serif;font-size:12.7px">Importance</text>
</svg>
</body></html>
